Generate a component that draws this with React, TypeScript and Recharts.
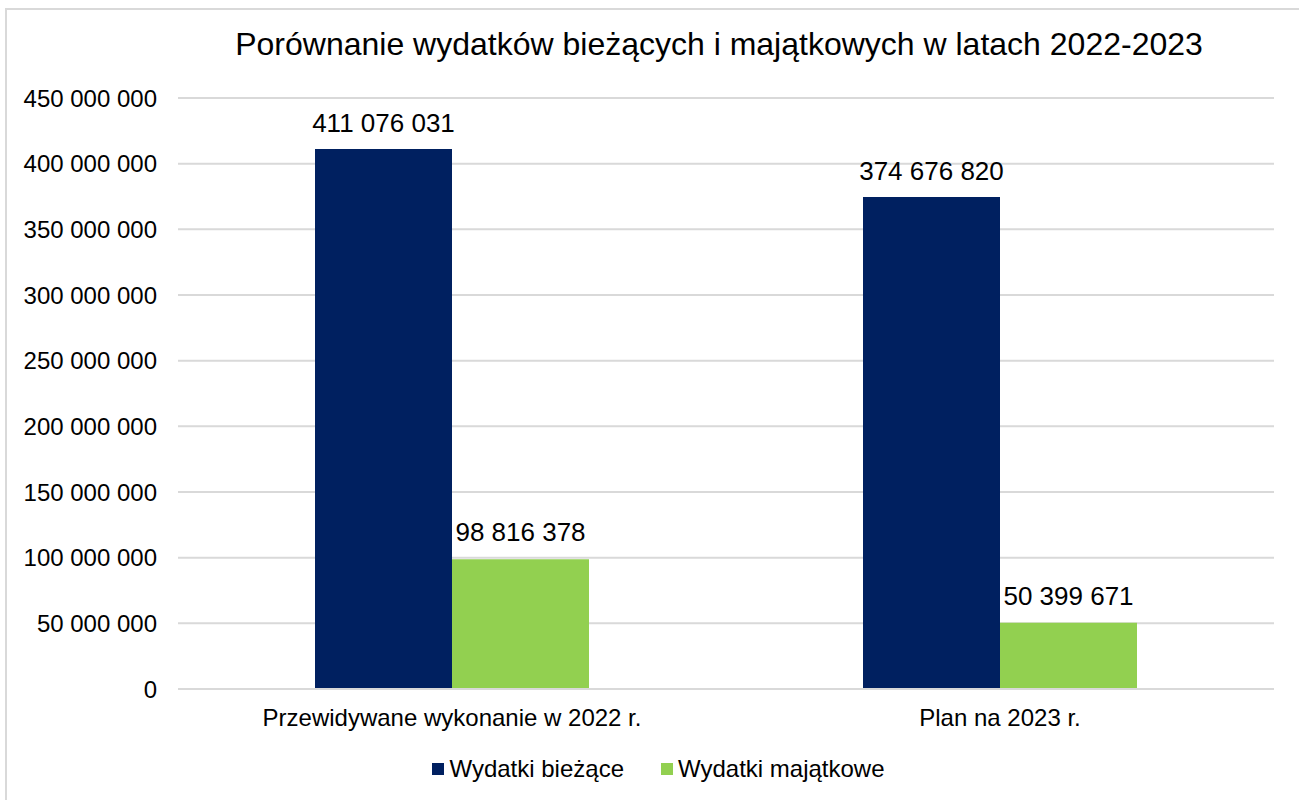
import { BarChart, Bar, XAxis, YAxis, CartesianGrid, Legend, LabelList } from "recharts";

const categories = ["Przewidywane wykonanie w 2022 r.", "Plan na 2023 r."];
const biezace = [411076031, 374676820];
const majatkowe = [98816378, 50399671];
const yTicks = [0, 50000000, 100000000, 150000000, 200000000, 250000000, 300000000, 350000000, 400000000, 450000000];

const seriesNames = { biezace: "Wydatki bieżące", majatkowe: "Wydatki majątkowe" };
const colors = { biezace: "#002060", majatkowe: "#92D050" };

const font = '"Liberation Sans", Arial, sans-serif';

const data = categories.map((name, i) => ({
  name,
  biezace: biezace[i],
  majatkowe: majatkowe[i],
}));

function fmt(v: number) {
  return String(Math.round(v)).replace(/\B(?=(\d{3})+(?!\d))/g, " ");
}

function LegendContent() {
  const items = [
    { label: seriesNames.biezace, color: colors.biezace },
    { label: seriesNames.majatkowe, color: colors.majatkowe },
  ];
  return (
    <div
      style={{
        height: 30,
        display: "flex",
        justifyContent: "center",
        alignItems: "center",
        gap: 37,
        fontFamily: font,
        fontSize: 24,
        lineHeight: "30px",
        color: "#000",
      }}
    >
      {items.map((it) => (
        <div key={it.label} style={{ display: "flex", alignItems: "center" }}>
          <span style={{ width: 12, height: 12, background: it.color, marginRight: 5, display: "inline-block" }} />
          <span>{it.label}</span>
        </div>
      ))}
    </div>
  );
}

export default function App() {
  return (
    <div style={{ position: "absolute", left: 0, top: 0, width: 1299, height: 800, overflow: "hidden", background: "#fff" }}>
      <div
        style={{
          position: "absolute",
          left: 5,
          top: 8,
          width: 1400,
          height: 900,
          border: "2px solid #d9d9d9",
        }}
      />
      <div
        style={{
          position: "absolute",
          left: 0,
          top: 28,
          width: 1438,
          textAlign: "center",
          fontFamily: font,
          fontSize: 32,
          lineHeight: "32px",
          color: "#000",
          whiteSpace: "nowrap",
        }}
      >
        Porównanie wydatków bieżących i majątkowych w latach 2022-2023
      </div>
      <div style={{ position: "absolute", left: 0, top: 0 }}>
        <BarChart
          width={1299}
          height={800}
          data={data}
          margin={{ top: 98, right: 25, bottom: 21, left: 0 }}
          barCategoryGap="25%"
          barGap={0}
          style={{ fontFamily: font }}
        >
          <CartesianGrid vertical={false} stroke="#d9d9d9" strokeWidth={2} />
          <XAxis
            dataKey="name"
            height={60}
            tickSize={0}
            tickMargin={20}
            axisLine={{ stroke: "#d9d9d9", strokeWidth: 2 }}
            tickLine={false}
            tick={{ fontSize: 24, fill: "#000" }}
          />
          <YAxis
            width={178}
            domain={[0, 450000000]}
            ticks={yTicks}
            tickFormatter={fmt}
            axisLine={false}
            tickLine={false}
            tickSize={0}
            tickMargin={21}
            tick={{ fontSize: 24, fill: "#000" }}
            interval={0}
          />
          <Legend content={<LegendContent />} wrapperStyle={{ top: 754, left: 0, width: 1317 }} />
          <Bar dataKey="biezace" name={seriesNames.biezace} fill={colors.biezace} isAnimationActive={false}>
            <LabelList dataKey="biezace" position="top" offset={17} formatter={(v: number) => fmt(v)} style={{ fontSize: 26, fill: "#000" }} />
          </Bar>
          <Bar dataKey="majatkowe" name={seriesNames.majatkowe} fill={colors.majatkowe} isAnimationActive={false}>
            <LabelList dataKey="majatkowe" position="top" offset={18} formatter={(v: number) => fmt(v)} style={{ fontSize: 26, fill: "#000" }} />
          </Bar>
        </BarChart>
      </div>
    </div>
  );
}
